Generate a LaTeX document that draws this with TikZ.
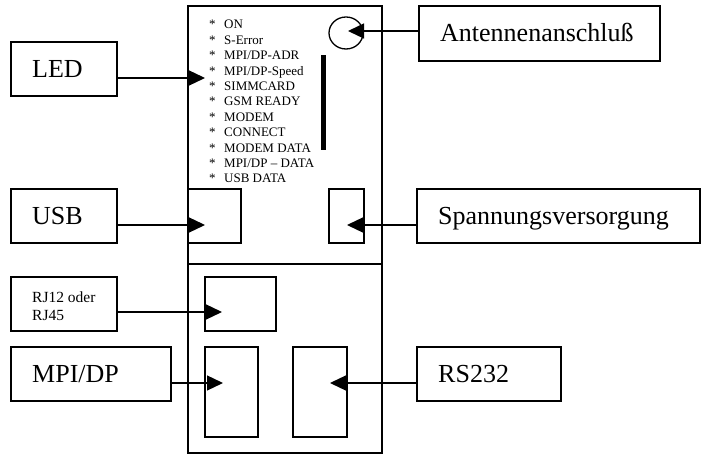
\documentclass[tikz,border=0pt]{standalone}
\usepackage{fontspec}
\setmainfont{Liberation Serif}
\usetikzlibrary{arrows.meta,shapes.geometric}
\begin{document}
\begin{tikzpicture}[x=1pt,y=-1pt,
  box/.style={draw,line width=1.3pt,inner sep=0pt,rectangle},
  mainbox/.style={draw,line width=1.6pt,inner sep=0pt,rectangle},
  lbl/.style={anchor=base west,font=\fontsize{26}{28}\selectfont,inner sep=0pt},
  small/.style={anchor=base west,font=\fontsize{15.5}{17.5}\selectfont,inner sep=0pt},
  conn/.style={line width=1.3pt,-{Triangle[length=16pt,width=15pt]}},
  item/.style={anchor=base west,font=\fontsize{13}{14}\selectfont,inner sep=0pt}]
\useasboundingbox (0,0) rectangle (702,454);

% main unit
\node[mainbox,minimum width=194,minimum height=258] (upper) at (285,135) {};
\node[mainbox,minimum width=194,minimum height=189] (lower) at (285,358.5) {};

% outer boxes
\node[box,minimum width=106,minimum height=54] (led) at (64,69) {};
\node[box,minimum width=106,minimum height=54] (usb) at (64,216) {};
\node[box,minimum width=106,minimum height=54] (rj) at (64,304) {};
\node[box,minimum width=160,minimum height=54] (mpi) at (91,374) {};
\node[box,minimum width=241,minimum height=55] (ant) at (539.5,33.5) {};
\node[box,minimum width=283,minimum height=54] (pow) at (558.5,216) {};
\node[box,minimum width=144,minimum height=54] (rs) at (489,374) {};

% ports inside unit
\node[box,minimum width=53,minimum height=54] (usbport) at (214.5,216) {};
\node[box,minimum width=35,minimum height=54] (powport) at (346.5,216) {};
\node[box,minimum width=71,minimum height=54] (rjport) at (240.5,304) {};
\node[box,minimum width=53,minimum height=90] (mpiport) at (231.5,392) {};
\node[box,minimum width=54,minimum height=90] (rsport) at (320,392) {};
\node[draw,ellipse,line width=1.3pt,minimum width=34,minimum height=32,inner sep=0pt] (antport) at (346,33) {};
\node[fill,rectangle,minimum width=5,minimum height=95,inner sep=0pt] (bar) at (323.5,102.5) {};

% labels
\node[lbl] (tled) at (32,78) {LED};
\node[lbl] (tusb) at (32,225) {USB};
\node[lbl] (tmpi) at (32,383) {MPI/DP};
\node[lbl] (tant) at (440,42) {Antennenanschluß};
\node[lbl] (tpow) at (438,225) {Spannungsversorgung};
\node[lbl] (trs) at (438,383) {RS232};
\node[small] (trj1) at (32,303) {RJ12 oder};
\node[small] (trj2) at (32,321) {RJ45};

% LED list
\foreach \t [count=\i from 0] in {ON,S-Error,MPI/DP-ADR,MPI/DP-Speed,SIMMCARD,GSM READY,MODEM,CONNECT,MODEM DATA,MPI/DP – DATA,USB DATA}{
  \node[item] (s\i) at (209,29+15.4*\i) {*};
  \node[item] (l\i) at (224,29+15.4*\i) {\t};
}

% connector tips
\coordinate (ledtip) at (205,78);
\coordinate (usbtip) at (205,225);
\coordinate (powtip) at (347,225);
\coordinate (rjtip) at (222,312);
\coordinate (mpitip) at (223,383);
\coordinate (rstip) at (330,383);
\coordinate (anttip) at (348,31);

\draw[conn] (led.east |- ledtip) -- (ledtip);
\draw[conn] (usb.east |- usbtip) -- (usbtip);
\draw[conn] (pow.west |- powtip) -- (powtip);
\draw[conn] (rj.east |- rjtip) -- (rjtip);
\draw[conn] (mpi.east |- mpitip) -- (mpitip);
\draw[conn] (rs.west |- rstip) -- (rstip);
\draw[conn] (ant.west |- anttip) -- (anttip);
\end{tikzpicture}
\end{document}
